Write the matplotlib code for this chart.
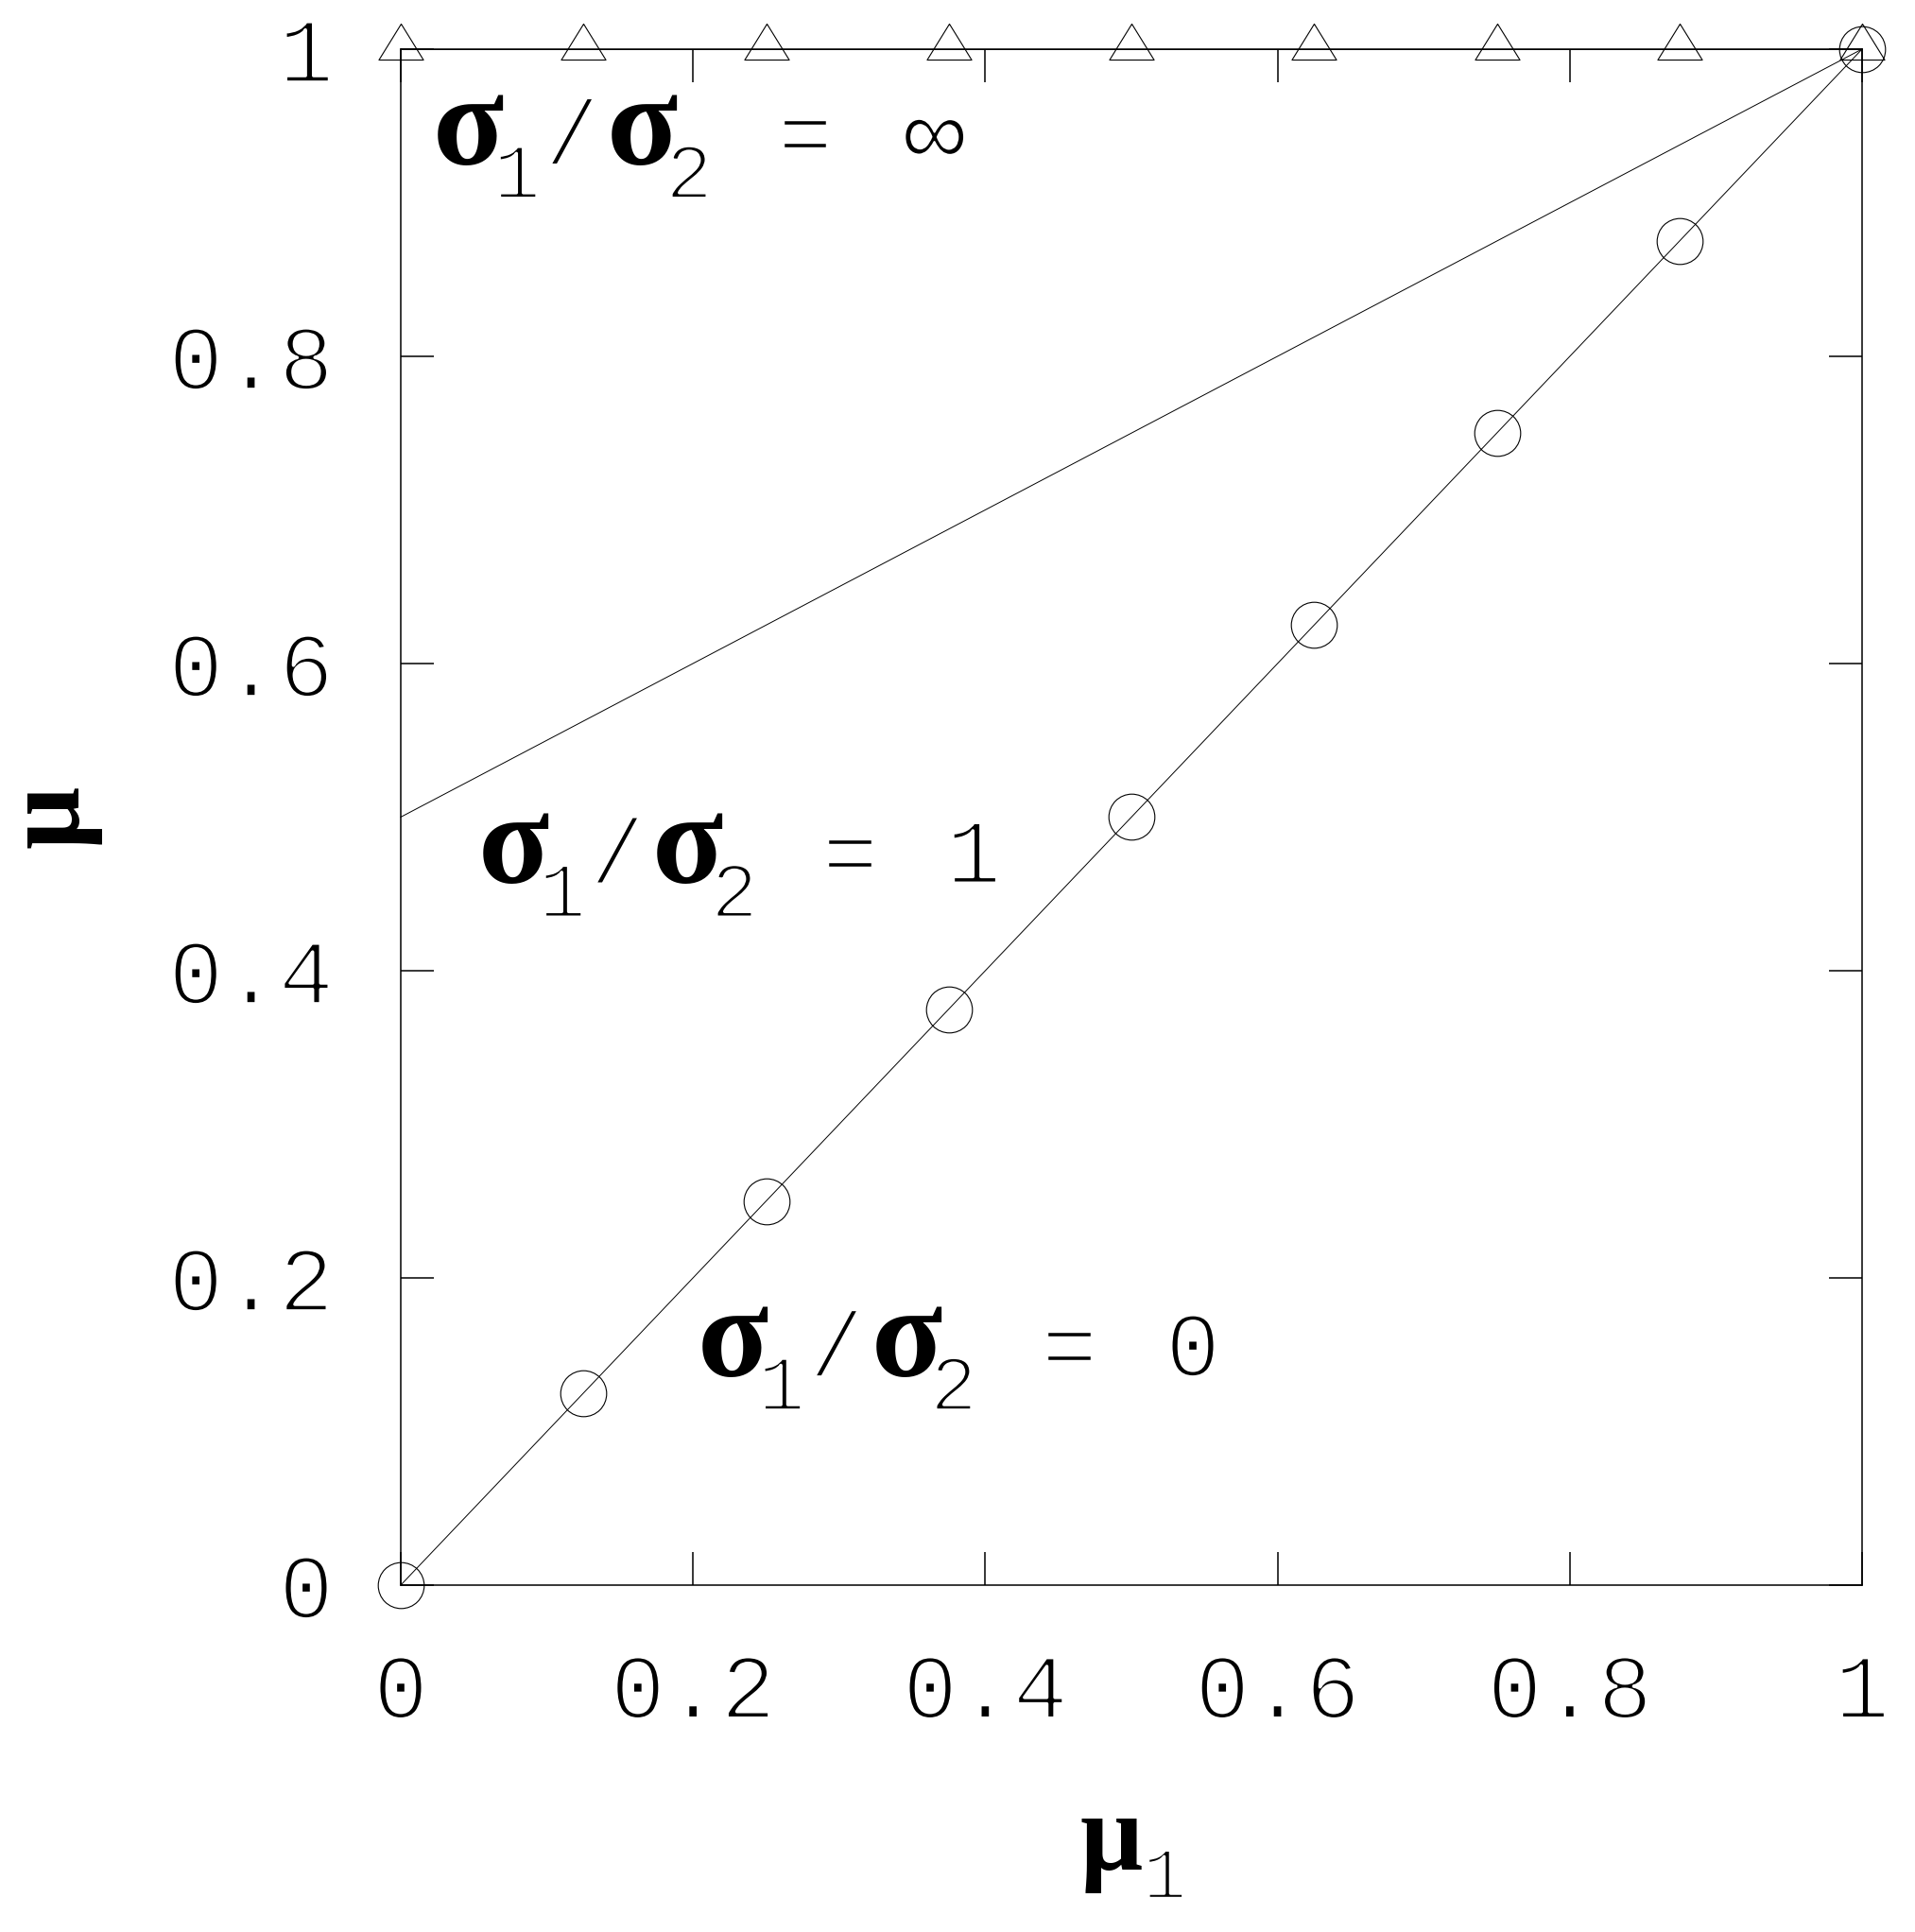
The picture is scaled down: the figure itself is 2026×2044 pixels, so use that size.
import numpy as np
import matplotlib.pyplot as plt
import matplotlib.patheffects as pe

plt.rcParams['font.family'] = ['Liberation Mono', 'DejaVu Sans Mono']

# Дані: μ1 та μ для трьох випадків σ1/σ2
mu1_points = [0, 0.125, 0.25, 0.375, 0.5, 0.625, 0.75, 0.875, 1]
mu_ratio_inf = [1, 1, 1, 1, 1, 1, 1, 1, 1]
mu_ratio_zero = [0, 0.125, 0.25, 0.375, 0.5, 0.625, 0.75, 0.875, 1]
mu1_line = [0, 1]
mu_ratio_one = [0.5, 1]

tick_values = [0, 0.2, 0.4, 0.6, 0.8, 1]
tick_labels = ['0', '0.2', '0.4', '0.6', '0.8', '1']

ratio_values = ['∞', '1', '0']
ratio_anchors = [(0.022, 0.925), (0.053, 0.457), (0.203, 0.136)]

DPI = 100
PX = 72 / DPI  # пікселі -> пункти

# тонші штрихи для моноширинного шрифту (як у gnuplot)
THIN = [pe.Stroke(linewidth=2.5, foreground='white')]

GREEK = dict(family='Liberation Serif', fontweight='bold', fontsize=100)
MU = dict(family='Liberation Serif', fontweight='bold', fontsize=84)
MONO = dict(family=['Liberation Mono', 'DejaVu Sans Mono'], fontsize=70,
            path_effects=THIN)
INF = dict(family=['Liberation Sans', 'DejaVu Sans'], fontsize=72,
           path_effects=[pe.Stroke(linewidth=1.5, foreground='white')])
SUB = dict(family=['Liberation Mono', 'DejaVu Sans Mono'], fontsize=60,
           path_effects=THIN)

fig = plt.figure(figsize=(20.26, 20.44), dpi=DPI)
ax = fig.add_axes([0.2093, 0.1796, 0.7631, 0.7950])

# трикутник, центрований як у gnuplot (по центроїду)
tri = [(0, 27), (-23.5, -11), (23.5, -11), (0, 27)]

ax.plot(mu1_points, mu_ratio_inf, color='black', lw=0.7, marker=tri,
        ms=39, mfc='none', mec='black', mew=0.8, clip_on=False, zorder=3)
ax.plot(mu1_line, mu_ratio_one, color='black', lw=0.7, clip_on=False)
ax.plot(mu1_points, mu_ratio_zero, color='black', lw=0.7, marker='o',
        ms=35, mfc='none', mec='black', mew=0.8, clip_on=False, zorder=3)

ax.set_xlim(0, 1)
ax.set_ylim(0, 1)
ax.set_xticks(tick_values)
ax.set_xticklabels(tick_labels)
ax.set_yticks(tick_values)
ax.set_yticklabels(tick_labels)
ax.tick_params(direction='in', length=25, width=1.1, top=True, right=True,
               pad=51, labelsize=70)
for lbl in ax.get_xticklabels() + ax.get_yticklabels():
    lbl.set_path_effects(THIN)
for sp in ax.spines.values():
    sp.set_linewidth(1.1)


def rich_text(x, y, pieces, coords='data'):
    # кожен шматок тексту зі зсувом у пікселях від точки прив'язки
    for text, style, dx, dy in pieces:
        ax.annotate(text, xy=(x, y), xycoords=coords,
                    xytext=(dx * PX, dy * PX), textcoords='offset points',
                    ha='left', va='baseline', annotation_clip=False, **style)


for value, (x, y) in zip(ratio_values, ratio_anchors):
    rich_text(x, y, [
        ('σ', GREEK, 0, 0),
        ('1', SUB, 64, -36),
        ('/', MONO, 118, 0),
        ('σ', GREEK, 184, 0),
        ('2', SUB, 246, -36),
        ('=', MONO, 364, 0),
        (value, INF if value == '∞' else MONO, 495, 0),
    ])

# підписи осей
rich_text(0.465, -0.185, [('μ', MU, 0, 0), ('1', dict(SUB, fontsize=56), 66, -31)],
          coords='axes fraction')
ax.text(-0.239, 0.5, 'μ', transform=ax.transAxes, rotation=90,
        ha='center', va='center', **MU)

fig.savefig('out.png', dpi=DPI)
